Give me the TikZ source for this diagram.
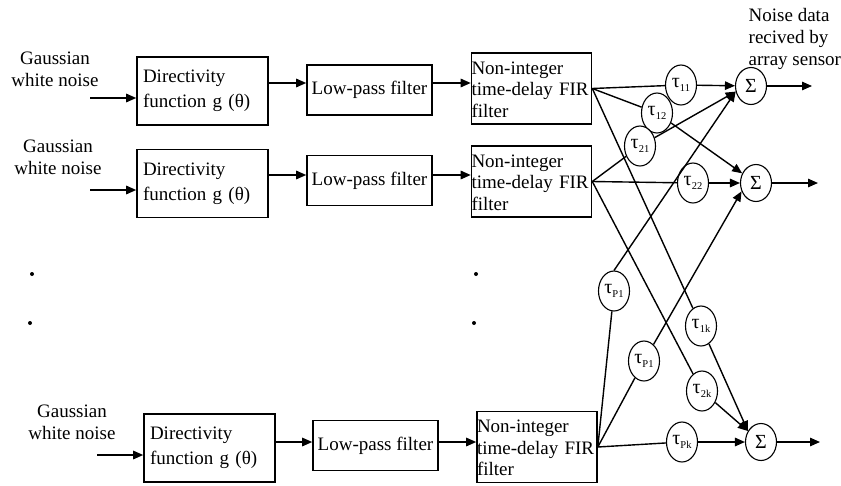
\documentclass[tikz,border=0pt]{standalone}
\usepackage{fontspec}
\setmainfont{Liberation Serif}
\usetikzlibrary{shapes, arrows.meta, calc}
\newcommand{\dly}[1]{τ\raisebox{-3.5pt}{\fontsize{10.5}{10.5}\selectfont #1}}

\begin{document}
\begin{tikzpicture}[x=1pt, y=-1pt, line width=1.4pt,
	>={Triangle[length=10pt, width=8.5pt]},
	every node/.style={font=\fontsize{19}{21.7}\selectfont},
	dirbox/.style={draw, line width=1.6pt, text width=119pt, inner xsep=6pt, minimum height=68pt, align=left, font=\fontsize{19}{25}\selectfont},
	lpbox/.style={draw, line width=1.6pt, minimum width=125pt, minimum height=50pt, inner xsep=3pt},
	firbox/.style={draw, line width=1.6pt, text width=120pt, inner xsep=0pt, inner ysep=1pt, align=left, text height=20pt, text depth=49pt},
	delay/.style={draw, ellipse, fill=white, line width=1.1pt, minimum width=31pt, minimum height=40pt, inner sep=0pt, font=\fontsize{20}{20}\selectfont},
	adder/.style={draw, ellipse, line width=1.1pt, minimum width=31pt, minimum height=37pt, inner sep=0pt, font=\fontsize{20}{20}\selectfont}]
	\useasboundingbox (0,0) rectangle (841,485);
	% sources
	\node[align=center] (g1) at (55,69) {Gaussian\\white noise};
	\node[align=center] (g2) at (58,157) {Gaussian\\white noise};
	\node[align=center] (g3) at (72,422) {Gaussian\\white noise};
	\coordinate (in1) at (90,98);
	\coordinate (in2) at (90,190);
	\coordinate (in3) at (97,455);
	% chains
	\node[dirbox] (dir1) at (202.5,91) {Directivity\\function g (θ)};
	\node[dirbox] (dir2) at (202.5,183.5) {Directivity\\function g (θ)};
	\node[dirbox] (dir3) at (209.5,448) {Directivity\\function g (θ)};
	\node[lpbox] (lp1) at (369.5,90) {Low-pass filter};
	\node[lpbox] (lp2) at (369.5,180.5) {Low-pass filter};
	\node[lpbox] (lp3) at (375.5,445.5) {Low-pass filter};
	\node[firbox] (fir1) at (531.5,88.5) {Non-integer\\time-delay FIR\\filter};
	\node[firbox] (fir2) at (531.5,181.5) {Non-integer\\time-delay FIR\\filter};
	\node[firbox] (fir3) at (537,447) {Non-integer\\time-delay FIR\\filter};
	\draw[->] (in1) -- (in1 -| dir1.west);
	\draw[->] (in2) -- (in2 -| dir2.west);
	\draw[->] (in3) -- (in3 -| dir3.west);
	\draw[->] ([yshift=7pt]lp1.west -| dir1.east) -- ([yshift=7pt]lp1.west);
	\draw[->] ([yshift=7pt]lp1.east) -- ([yshift=7pt]lp1.east -| fir1.west);
	\draw[->] ([yshift=5.5pt]lp2.west -| dir2.east) -- ([yshift=5.5pt]lp2.west);
	\draw[->] ([yshift=5.5pt]lp2.east) -- ([yshift=5.5pt]lp2.east -| fir2.west);
	\draw[->] ([yshift=3.5pt]lp3.west -| dir3.east) -- ([yshift=3.5pt]lp3.west);
	\draw[->] ([yshift=3.5pt]lp3.east) -- ([yshift=3.5pt]lp3.east -| fir3.west);
	% dots
	\fill (32,274) circle (2pt) (30,323) circle (2pt);
	\fill (476,274) circle (2pt) (474,323) circle (2pt);
	% delays and sums
	\node[adder] (s1) at (751,86) {Σ};
	\node[adder] (s2) at (756,183) {Σ};
	\node[adder] (s3) at (761,442) {Σ};
	\coordinate (o1) at (812,86);
	\coordinate (o2) at (818,183);
	\coordinate (o3) at (820,442);
	\node[anchor=west, align=left, inner sep=0pt] (rx) at (748,39) {Noise data\\recived by\\array sensor};
	\node[delay] (t11) at (681,85) {\dly{11}};
	\node[delay] (t12) at (657,113) {\dly{12}};
	\node[delay] (t21) at (640,146) {\dly{21}};
	\node[delay] (t22) at (693,183) {\dly{22}};
	\node[delay] (tp1a) at (614,291) {\dly{P1}};
	\node[delay] (tp1b) at (644,361) {\dly{P1}};
	\node[delay] (t1k) at (701,326) {\dly{1k}};
	\node[delay] (t2k) at (702,391) {\dly{2k}};
	\node[delay] (tpk) at (682,442) {\dly{Pk}};
	\foreach \f/\t in {fir1/t11, fir1/t12, fir1/t1k, fir2/t21, fir2/t22,
		fir2/t2k, fir3/tp1a, fir3/tp1b, fir3/tpk}
		\draw (\f.east) -- (\t);
	\foreach \t/\s in {t11/s1, t21/s1.200, tp1a.north/s1.200, t12/s2.145,
		t22/s2, tp1b/s2.210, t1k/s3.140, t2k/s3.140, tpk/s3}
		\draw[->] (\t) -- (\s);
	\draw[->] (s1) -- (o1);
	\draw[->] (s2) -- (o2);
	\draw[->] (s3) -- (o3);
\end{tikzpicture}
\end{document}
